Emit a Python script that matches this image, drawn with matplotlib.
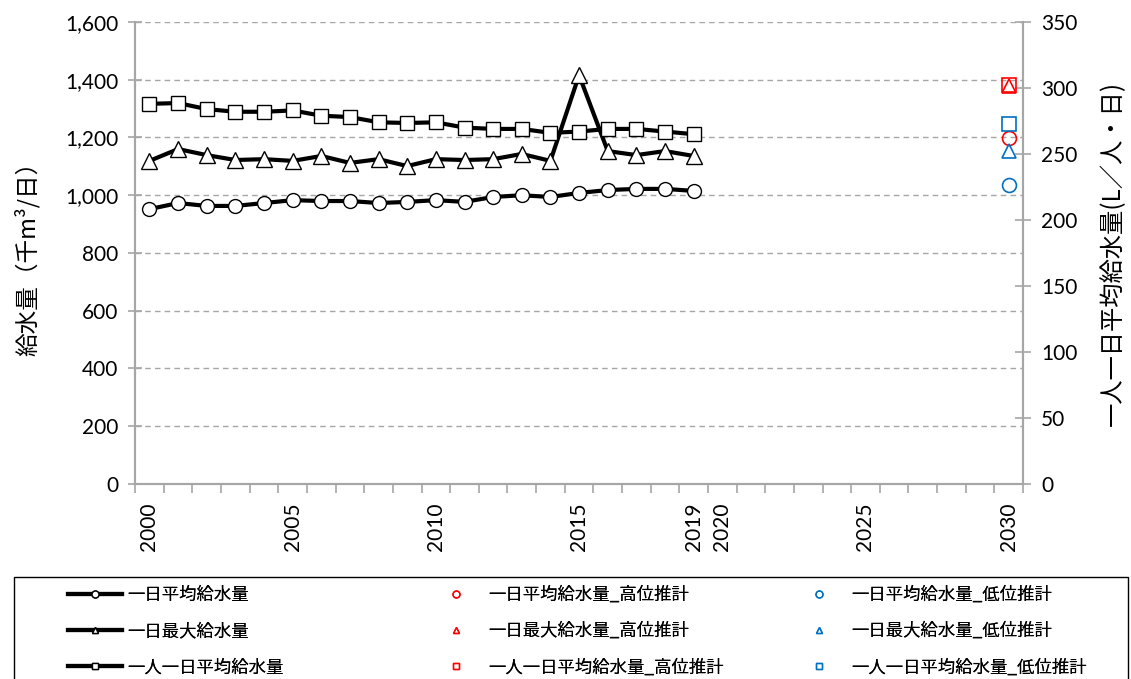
import matplotlib
matplotlib.use("Agg")
import matplotlib.pyplot as plt
from matplotlib.lines import Line2D
from matplotlib.patches import Rectangle
from matplotlib.ticker import FixedLocator, FuncFormatter

plt.rcParams['font.family'] = ['Lato', 'Noto Sans CJK JP', 'DejaVu Sans']
CJK = ['Noto Sans CJK JP', 'DejaVu Sans']

# --- data ---
years = list(range(2000, 2020))
avg_daily = [952, 973, 963, 963, 973, 983, 980, 980, 973, 977,
             983, 977, 994, 1000, 994, 1008, 1018, 1022, 1022, 1015]
max_daily = [1119, 1160, 1139, 1122, 1125, 1119, 1136, 1112, 1125, 1101,
             1125, 1122, 1125, 1143, 1119, 1416, 1153, 1139, 1153, 1136]
per_capita = [288, 288.6, 284, 282, 282, 283, 279, 278, 274, 273.5,
              274, 270, 269, 269, 266, 267, 269, 269, 267, 265]

proj_year = 2030
avg_high, avg_low = 1199, 1035
max_high, max_low = 1378, 1152
pc_high, pc_low = 302, 273

x_labels = [2000, 2005, 2010, 2015, 2019, 2020, 2025, 2030]

names_main = ['一日平均給水量', '一日最大給水量', '一人一日平均給水量']
names_high = [n + '_高位推計' for n in names_main]
names_low = [n + '_低位推計' for n in names_main]

RED = '#FF0000'
BLUE = '#0070C0'
GRAY = '#A6A6A6'

fig = plt.figure(figsize=(11.31, 6.79), dpi=100)
ax = fig.add_axes([0.1195, 0.2872, 0.785, 0.6804])
ax2 = ax.twinx()

line_kw = dict(color='black', lw=3, markerfacecolor='white',
               markeredgecolor='black', markeredgewidth=1, zorder=3)
ax.plot(years, avg_daily, marker='o', ms=10, **line_kw)
ax.plot(years, max_daily, marker='^', ms=11, **line_kw)
ax2.plot(years, per_capita, marker='s', ms=10, **line_kw)

pkw = dict(ls='none', markerfacecolor='none', markeredgewidth=1.2, ms=10, zorder=4)
ax.plot([proj_year], [avg_high], marker='o', markeredgecolor=RED, **pkw)
ax.plot([proj_year], [avg_low], marker='o', markeredgecolor=BLUE, **pkw)
ax.plot([proj_year], [max_high], marker='^', markeredgecolor=RED, **pkw)
ax.plot([proj_year], [max_low], marker='^', markeredgecolor=BLUE, **pkw)
ax2.plot([proj_year], [pc_high], marker='s', markeredgecolor=RED, **pkw)
ax2.plot([proj_year], [pc_low], marker='s', markeredgecolor=BLUE, **pkw)

ax.set_xlim(1999.5, 2030.5)
ax.set_ylim(0, 1600)
ax2.set_ylim(0, 350)
ax.set_yticks(range(0, 1601, 200))
ax2.set_yticks(range(0, 351, 50))
ax.yaxis.set_major_formatter(FuncFormatter(lambda v, p: f'{int(v):,}'))

ax.set_xticks(x_labels)
ax.set_xticklabels([str(y) for y in x_labels], rotation=90)
ax.xaxis.set_minor_locator(FixedLocator([y + 0.5 for y in range(1999, 2031)]))
ax.tick_params(axis='x', which='major', length=0, pad=13, labelsize=15)
ax.tick_params(axis='x', which='minor', length=6.5, color=GRAY, width=1.2)
ax.tick_params(axis='y', direction='inout', length=10, width=1.2, color=GRAY,
               labelsize=15, pad=7)
ax2.tick_params(axis='y', direction='inout', length=12, width=1.2, color=GRAY,
                labelsize=15, pad=7)

ax.grid(axis='y', color=GRAY, ls=(0, (4, 3)), lw=1)
ax.set_axisbelow(True)
for a in (ax, ax2):
    a.spines['top'].set_visible(False)
    for s in ('left', 'right', 'bottom'):
        a.spines[s].set_color(GRAY)
        a.spines[s].set_linewidth(1.5)

ax.set_ylabel('給水量（千m³/日）', family=CJK, fontsize=17, labelpad=18)
ax2.set_ylabel('一人一日平均給水量(L／人・日)', family=CJK, fontsize=17.5,
               rotation=90, labelpad=16)

# legend: three columns, framed box at the bottom
fig.add_artist(Rectangle((0.0124, -0.05), 0.985, 0.2, transform=fig.transFigure,
                         fill=False, edgecolor='black', lw=1))

h_main = [Line2D([], [], color='black', lw=3, marker=m, ms=5,
                 markerfacecolor='white', markeredgecolor='black')
          for m in ('o', '^', 's')]
h_high = [Line2D([], [], ls='none', marker=m, ms=5, markerfacecolor='none',
                 markeredgecolor=RED) for m in ('o', '^', 's')]
h_low = [Line2D([], [], ls='none', marker=m, ms=5, markerfacecolor='none',
                markeredgecolor=BLUE) for m in ('o', '^', 's')]

leg_kw = dict(loc='upper left', frameon=False, borderpad=0, borderaxespad=0,
              handlelength=3.1, handletextpad=0.3, labelspacing=1.05,
              prop={'family': CJK, 'size': 12.5})
for hs, ns, x0 in ((h_main, names_main, 68), (h_high, names_high, 429),
                   (h_low, names_low, 792)):
    lg = fig.legend(hs, ns, bbox_to_anchor=(x0 / 1131, 1 - 586 / 679), **leg_kw)
    fig.add_artist(lg)

fig.savefig('out.png', dpi=100)
